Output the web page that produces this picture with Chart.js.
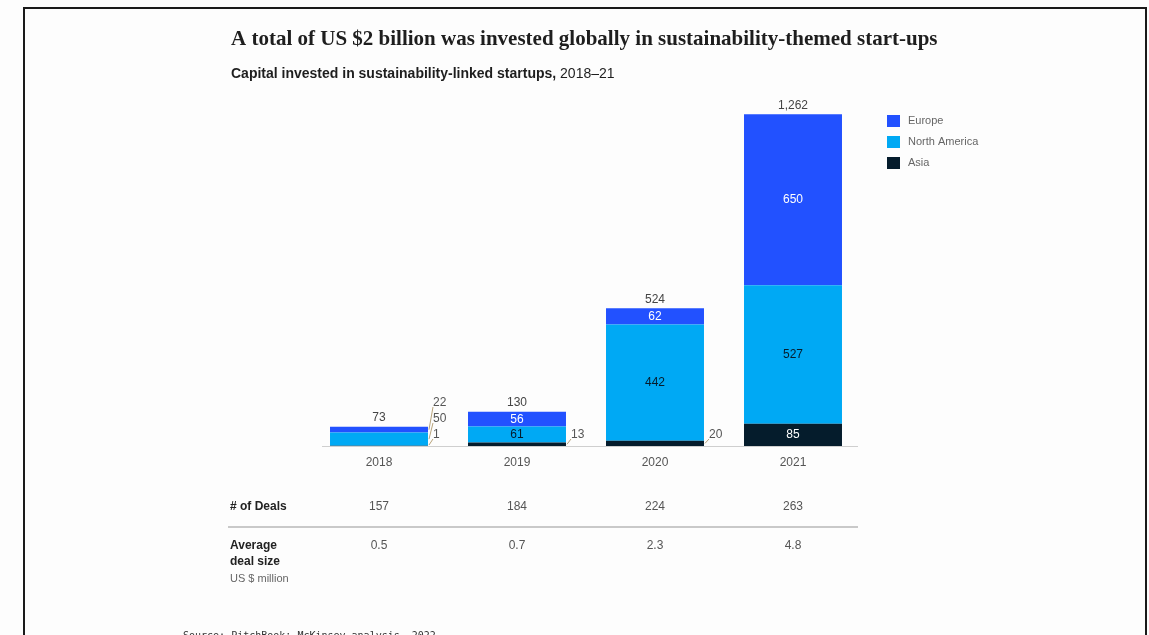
<!DOCTYPE html>
<html>
<head>
<meta charset="utf-8">
<script src="https://cdn.jsdelivr.net/npm/chart.js@4.4.1/dist/chart.umd.min.js"></script>
<style>
  html, body { margin: 0; padding: 0; background: #fdfdfd; }
  #wrap { width: 1149px; height: 635px; }
</style>
</head>
<body>
<div id="wrap"><canvas id="myChart" width="1149" height="635"></canvas></div>
<script>
// capital invested, US $ million
const years = ['2018', '2019', '2020', '2021'];
const europe = [22, 56, 62, 650];
const northAmerica = [50, 61, 442, 527];
const asia = [1, 13, 20, 85];

// table under the chart
const deals = [157, 184, 224, 263];
const avgDealSize = ['0.5', '0.7', '2.3', '4.8'];

const yMax = 1400;

const totals = years.map((y, i) => europe[i] + northAmerica[i] + asia[i]);

const EUROPE = '#2251ff';
const NAMERICA = '#00a9f4';
const ASIA = '#051c2c';
const SANS = '"Liberation Sans", Arial, sans-serif';
const SERIF = '"Liberation Serif", "Times New Roman", serif';

const extras = {
    id: 'extras',
    afterDraw(chart) {
        const ctx = chart.ctx;
        const area = chart.chartArea;
        ctx.save();

        // frame
        ctx.strokeStyle = '#1a1a1a';
        ctx.lineWidth = 2;
        ctx.beginPath();
        ctx.moveTo(24, 640);
        ctx.lineTo(24, 8);
        ctx.lineTo(1146, 8);
        ctx.lineTo(1146, 640);
        ctx.stroke();

        // title + subtitle
        ctx.fillStyle = '#1e1e1e';
        ctx.textBaseline = 'alphabetic';
        ctx.textAlign = 'left';
        ctx.font = 'bold 21px ' + SERIF;
        ctx.fillText('A total of US $2 billion was invested globally in sustainability-themed start-ups', 231, 45);
        ctx.font = 'bold 14px ' + SANS;
        const sub = 'Capital invested in sustainability-linked startups, ';
        ctx.fillText(sub, 231, 78);
        const w = ctx.measureText(sub).width;
        ctx.font = '14px ' + SANS;
        ctx.fillText('2018\u201321', 231 + w, 78);

        // legend
        const legend = [['Europe', EUROPE], ['North America', NAMERICA], ['Asia', ASIA]];
        ctx.font = '11px ' + SANS;
        ctx.textBaseline = 'middle';
        legend.forEach((l, k) => {
            const ly = 121 + k * 21;
            ctx.fillStyle = l[1];
            ctx.fillRect(887, ly - 6, 13, 12);
            ctx.fillStyle = '#666';
            ctx.fillText(l[0], 908, ly);
        });

        // baseline
        const base = chart.scales.y.getPixelForValue(0);
        ctx.strokeStyle = '#cfcfcf';
        ctx.lineWidth = 1;
        ctx.beginPath();
        ctx.moveTo(area.left + 12, base + 0.5);
        ctx.lineTo(area.right - 4, base + 0.5);
        ctx.stroke();

        const metas = [0, 1, 2].map(d => chart.getDatasetMeta(d));
        const inside = ['#ffffff', '#051c2c', '#ffffff'];

        years.forEach((yr, i) => {
            const topEl = metas[2].data[i];
            const cx = topEl.x;
            const right = cx + topEl.width / 2;

            // total above bar
            ctx.font = '12px ' + SANS;
            ctx.fillStyle = '#444';
            ctx.textAlign = 'center';
            ctx.textBaseline = 'bottom';
            ctx.fillText(totals[i].toLocaleString('en-US'), cx, topEl.y - 3);

            // segment values, small ones pulled out to the right
            let n = 0;
            metas.forEach((m, d) => {
                const el = m.data[i];
                const h = el.base - el.y;
                const val = chart.data.datasets[d].data[i];
                const mid = (el.y + el.base) / 2;
                ctx.textBaseline = 'middle';
                if (h < 14) {
                    const ly = base - 11 - n * 16;
                    n++;
                    ctx.strokeStyle = '#b8a37a';
                    ctx.lineWidth = 1;
                    ctx.beginPath();
                    ctx.moveTo(right + 1, Math.min(mid, base - 1));
                    ctx.lineTo(right + 5, ly + 4);
                    ctx.stroke();
                    ctx.fillStyle = '#555';
                    ctx.textAlign = 'left';
                    ctx.fillText(String(val), right + 5, ly);
                } else {
                    ctx.fillStyle = inside[d];
                    ctx.textAlign = 'center';
                    ctx.fillText(String(val), cx, mid);
                }
            });

            // category label
            ctx.fillStyle = '#555';
            ctx.textAlign = 'center';
            ctx.textBaseline = 'middle';
            ctx.font = '12px ' + SANS;
            ctx.fillText(yr, cx, 463);

            // table values
            ctx.fillText(String(deals[i]), cx, 507);
            ctx.fillText(avgDealSize[i], cx, 546);
        });

        // table row headers
        ctx.textAlign = 'left';
        ctx.fillStyle = '#222';
        ctx.font = 'bold 12px ' + SANS;
        ctx.fillText('# of Deals', 230, 507);
        ctx.fillText('Average', 230, 546);
        ctx.fillText('deal size', 230, 562);
        ctx.font = '11px ' + SANS;
        ctx.fillStyle = '#666';
        ctx.fillText('US $ million', 230, 579);

        ctx.strokeStyle = '#c9c9c9';
        ctx.lineWidth = 2;
        ctx.beginPath();
        ctx.moveTo(228, 527);
        ctx.lineTo(area.right - 4, 527);
        ctx.stroke();

        // source note, cut off by the page edge
        ctx.font = '10px "DejaVu Sans Mono", monospace';
        ctx.fillStyle = '#333';
        ctx.textBaseline = 'alphabetic';
        ctx.fillText('Source: PitchBook; McKinsey analysis, 2022', 183, 639);

        ctx.restore();
    }
};

const ctx = document.getElementById('myChart').getContext('2d');
const myChart = new Chart(ctx, {
    type: 'bar',
    data: {
        labels: years,
        datasets: [
            { label: 'Asia', data: asia, backgroundColor: ASIA },
            { label: 'North America', data: northAmerica, backgroundColor: NAMERICA },
            { label: 'Europe', data: europe, backgroundColor: EUROPE }
        ]
    },
    options: {
        responsive: false,
        animation: false,
        layout: { padding: { top: 78, bottom: 189, left: 310, right: 287 } },
        datasets: { bar: { categoryPercentage: 1, barPercentage: 0.71, borderWidth: 0 } },
        scales: {
            x: { stacked: true, display: false },
            y: { stacked: true, display: false, min: 0, max: yMax }
        },
        plugins: {
            legend: { display: false },
            tooltip: { enabled: false }
        }
    },
    plugins: [extras]
});
</script>
</body>
</html>
